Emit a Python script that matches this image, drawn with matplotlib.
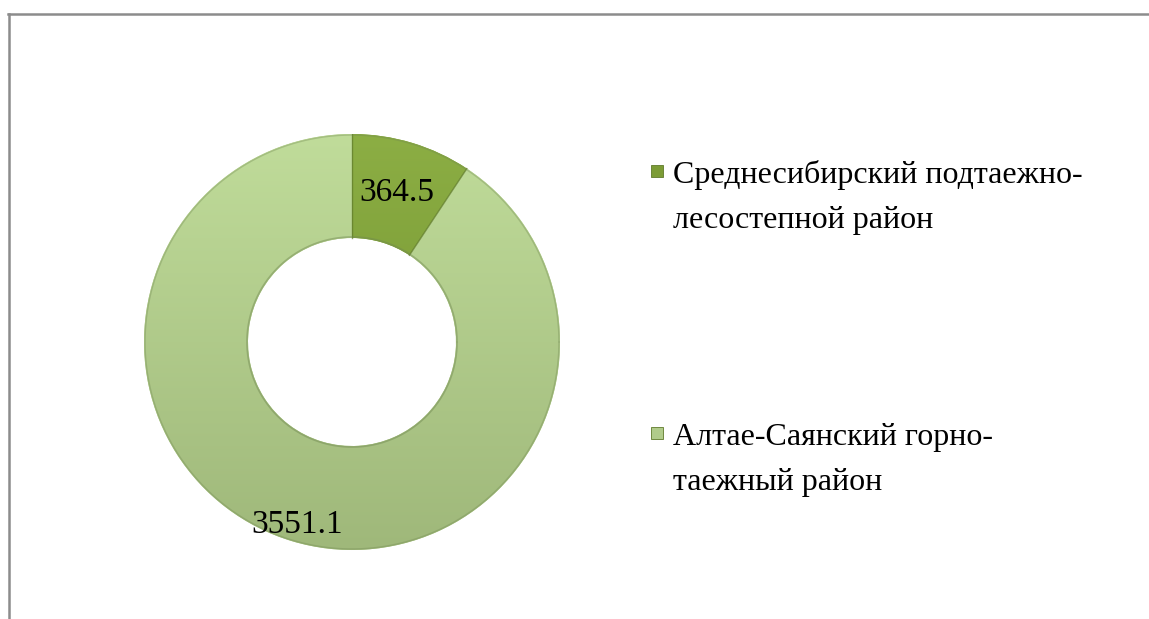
import numpy as np
import matplotlib
matplotlib.use("Agg")
import matplotlib.pyplot as plt
from matplotlib.patches import Rectangle
from matplotlib.lines import Line2D

categories = ["Среднесибирский подтаежно-\nлесостепной район",
              "Алтае-Саянский горно-\nтаежный район"]
values = [364.5, 3551.1]
value_labels = ["364.5", "3551.1"]
colors_top = ["#8cae44", "#c0dc9a"]
colors_bot = ["#6c8c2a", "#9fb87a"]
legend_colors = ["#7c9c36", "#b0cb8a"]

W, H = 1149, 619
DPI = 100
fig = plt.figure(figsize=(W / DPI, H / DPI), dpi=DPI)
fig.patch.set_facecolor("white")

FONT = ["Liberation Serif", "DejaVu Serif"]

# border lines (top and left)
fig.add_artist(Line2D([8 / W, 1.0], [1 - 13.5 / H, 1 - 13.5 / H], color="#8c8c8c", lw=1.8))
fig.add_artist(Line2D([8.5 / W, 8.5 / W], [0, 1 - 13.5 / H], color="#8c8c8c", lw=1.8))

cx, cy, R = 352, 342, 208
ax = fig.add_axes([(cx - R) / W, (H - cy - R) / H, 2 * R / W, 2 * R / H])
ax.axis("off")

width = 0.5
wedges, _ = ax.pie(values, startangle=90, counterclock=False, radius=1.0,
                   wedgeprops=dict(width=width, edgecolor="none"),
                   colors=legend_colors)
ax.set_xlim(-1, 1)
ax.set_ylim(-1, 1)

# gradient fill clipped to wedges
yy = np.linspace(1, 0, 256).reshape(-1, 1)
for w, ct, cb in zip(wedges, colors_top, colors_bot):
    c1 = np.array(matplotlib.colors.to_rgb(ct))
    c2 = np.array(matplotlib.colors.to_rgb(cb))
    grad = c1[None, None, :] * yy[:, :, None] + c2[None, None, :] * (1 - yy[:, :, None])
    grad = np.repeat(grad, 2, axis=1)
    im = ax.imshow(grad, extent=[-1, 1, -1, 1], aspect="auto", zorder=2, interpolation="bicubic")
    im.set_clip_path(w)
    w.set_zorder(1)

# separators
for w in wedges:
    ang = np.deg2rad(w.theta1)
    ax.plot([0.5 * np.cos(ang), np.cos(ang)], [0.5 * np.sin(ang), np.sin(ang)],
            color="#5f7a2a", lw=1.0, zorder=3, alpha=0.7)

# subtle inner shadow ring
th = np.linspace(0, 2 * np.pi, 400)
ax.plot(0.505 * np.cos(th), 0.505 * np.sin(th), color="#6f8650", lw=1.2, alpha=0.45, zorder=3)
ax.plot(0.995 * np.cos(th), 0.995 * np.sin(th), color="#6f8650", lw=1.0, alpha=0.35, zorder=3)

# value labels
label_r = [0.75, 0.92]
for w, txt, r in zip(wedges, value_labels, label_r):
    mid = np.deg2rad((w.theta1 + w.theta2) / 2)
    ax.text(r * np.cos(mid), r * np.sin(mid), txt, ha="center", va="center",
            fontsize=24, family=FONT, color="black", zorder=5)

# legend
leg_y = [171, 433]
line_gap = 45
for cat, col, y in zip(categories, legend_colors, leg_y):
    s = 12
    fig.add_artist(Rectangle((651 / W, (H - y - s / 2) / H), s / W, s / H,
                             facecolor=col, edgecolor="#5f7a2a", lw=0.6,
                             transform=fig.transFigure))
    for i, line in enumerate(cat.split("\n")):
        base = y + 12 + i * line_gap
        fig.text(673 / W, (H - base) / H, line, ha="left", va="baseline",
                 fontsize=23, family=FONT, color="black")

fig.savefig("out.png", dpi=DPI, facecolor="white")
